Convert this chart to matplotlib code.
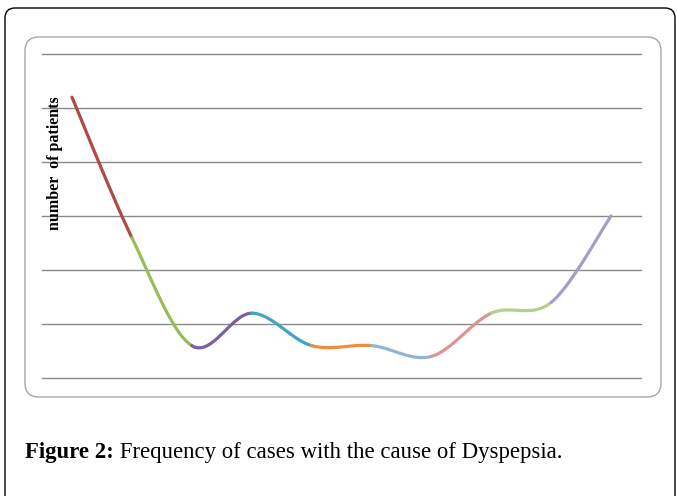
import matplotlib.pyplot as plt
import numpy as np
from matplotlib.patches import FancyBboxPatch
from matplotlib.transforms import IdentityTransform

# data (number of patients per cause)
causes = np.arange(10)
patients = [26, 13, 3, 6, 3, 3, 2, 6, 7, 15]
seg_colors = ['#B04A48', '#9BBB59', '#7D5FA0', '#40A5BD', '#EE8D3E',
              '#95B3D7', '#D99694', '#B5D08A', '#A99BCB']
grid_vals = [0, 5, 10, 15, 20, 25, 30]
ylabel = 'number  of patients'
caption_bold = 'Figure 2:'
caption_text = ' Frequency of cases with the cause of Dyspepsia.'


def smooth_segments(x, y, n=40):
    #excel-like smoothed line: bezier between each pair of points
    x = np.asarray(x, float)
    y = np.asarray(y, float)
    pts = np.column_stack([x, y])
    segs = []
    t = np.linspace(0, 1, n)[:, None]
    for i in range(len(pts) - 1):
        p0 = pts[max(i - 1, 0)]
        p1 = pts[i]
        p2 = pts[i + 1]
        p3 = pts[min(i + 2, len(pts) - 1)]
        c1 = p1 + (p2 - p0) / 6
        c2 = p2 - (p3 - p1) / 6
        b = ((1 - t) ** 3) * p1 + 3 * ((1 - t) ** 2) * t * c1 + 3 * (1 - t) * t ** 2 * c2 + t ** 3 * p2
        segs.append(b)
    return segs


fig = plt.figure(figsize=(6.77, 4.96), dpi=100)
W, H = 677, 496

#outer frame and chart frame (pixel coordinates)
outer = FancyBboxPatch((5, -30), 670, 488 + 30, boxstyle='round,pad=0,rounding_size=10',
                       transform=IdentityTransform(), facecolor='none', edgecolor='black', lw=1.0)
fig.add_artist(outer)
inner = FancyBboxPatch((25, H - 397), 636, 360, boxstyle='round,pad=0,rounding_size=14',
                       transform=IdentityTransform(), facecolor='none', edgecolor='#A6A6A6', lw=1.0)
fig.add_artist(inner)

ax = fig.add_axes([42 / W, 1 - 378 / H, 599 / W, 324 / H])
ax.set_xlim(0, 10)
ax.set_ylim(0, 30)
for g in grid_vals:
    ax.axhline(g, color='#8A8A8A', lw=1.0, clip_on=False, zorder=1)

for seg, c in zip(smooth_segments(causes + 0.5, patients), seg_colors):
    ax.plot(seg[:, 0], seg[:, 1], color=c, lw=2.3, solid_capstyle='round', zorder=3, clip_on=False)

ax.set_xticks([])
ax.set_yticks([])
for s in ax.spines.values():
    s.set_visible(False)
ax.patch.set_visible(False)

fig.text(55 / W, 1 - 163 / H, ylabel, rotation=90, ha='center', va='center',
         fontsize=11.5, fontweight='bold', family='Liberation Serif')

#caption: bold part then regular part
t1 = fig.text(25 / W, 1 - 458 / H, caption_bold, fontsize=16.4, fontweight='bold',
              family='Liberation Serif', va='baseline')
fig.canvas.draw()
bb = t1.get_window_extent()
fig.text(bb.x1 / W, 1 - 458 / H, caption_text, fontsize=16.4,
         family='Liberation Serif', va='baseline')

fig.savefig('out.png', dpi=100)
